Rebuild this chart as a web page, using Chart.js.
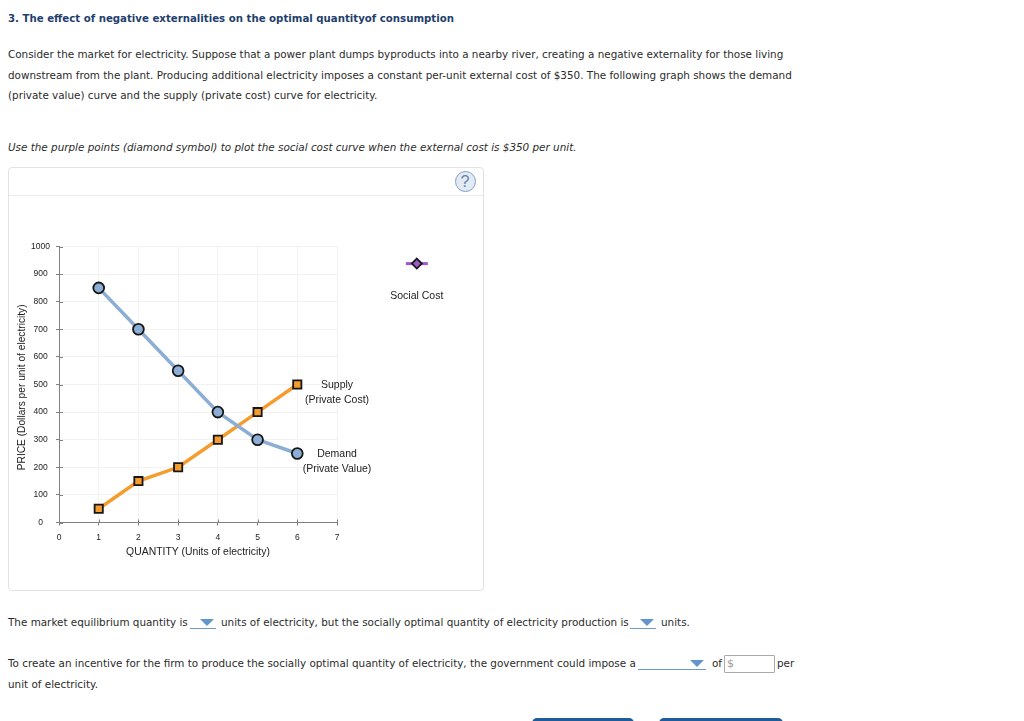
<!DOCTYPE html>
<html><head><meta charset="utf-8">
<script src="https://cdn.jsdelivr.net/npm/chart.js@4/dist/chart.umd.js"></script>
<style>
html,body{margin:0;padding:0;background:#fff;overflow:hidden;width:1024px;height:721px}
.t{position:absolute;white-space:nowrap;font:10.4px/14px "DejaVu Sans",sans-serif;color:#2b2b2b}
.panel{position:absolute;left:8px;top:167px;width:474px;height:422px;border:1px solid #e2e2e2;border-radius:4px;box-sizing:content-box}
.sep{position:absolute;left:9px;top:195px;width:474px;height:1px;background:#ebebeb}
.help{position:absolute;left:454.5px;top:170.5px;width:19px;height:19px;border:1.5px solid #7f9fc4;border-radius:50%;background:#e3eaf3;color:#5f83ad;font:16px/19px "Liberation Sans",sans-serif;text-align:center}
.dd{position:absolute;border-bottom:1.5px solid #6f9bcb;height:14px}
.dd i{position:absolute;top:5px;right:2px;width:0;height:0;border-left:7px solid transparent;border-right:7px solid transparent;border-top:7px solid #6295cd}
.input{position:absolute;left:724px;top:655px;height:16px;border:1px solid #aaa;border-radius:1px;color:#999;font:11px/16px "DejaVu Sans",sans-serif;padding-left:2px;box-sizing:content-box;width:47px}
.btn{position:absolute;top:718px;height:8px;background:#1f5c99;border-radius:5px 5px 0 0}
canvas{position:absolute;left:9px;top:196px}
</style></head><body>
<div class="t" style="left:8px;top:12px;font-size:10.2px;font-weight:bold;color:#1f3f6e">3. The effect of negative externalities on the optimal quantityof consumption</div>
<div class="t" style="left:8px;top:47px">Consider the market for electricity. Suppose that a power plant dumps byproducts into a nearby river, creating a negative externality for those living</div>
<div class="t" style="left:8px;top:68px">downstream from the plant. Producing additional electricity imposes a constant per-unit external cost of $350. The following graph shows the demand</div>
<div class="t" style="left:8px;top:88px">(private value) curve and the supply (private cost) curve for electricity.</div>
<div class="t" style="left:8px;top:140px;font-style:italic">Use the purple points (diamond symbol) to plot the social cost curve when the external cost is $350 per unit.</div>
<div class="panel"></div><div class="sep"></div><div class="help">?</div>
<canvas id="c" width="474" height="394"></canvas>
<div class="t" style="left:8px;top:615px">The market equilibrium quantity is</div>
<div class="dd" style="left:190px;top:614px;width:26px"><i></i></div>
<div class="t" style="left:221px;top:615px">units of electricity, but the socially optimal quantity of electricity production is</div>
<div class="dd" style="left:630px;top:614px;width:26px"><i></i></div>
<div class="t" style="left:661px;top:615px">units.</div>
<div class="t" style="left:8px;top:656px">To create an incentive for the firm to produce the socially optimal quantity of electricity, the government could impose a</div>
<div class="dd" style="left:638px;top:655px;width:68px"><i></i></div>
<div class="t" style="left:712px;top:656px">of</div>
<div class="input">$</div>
<div class="t" style="left:777px;top:656px">per</div>
<div class="t" style="left:8px;top:677px">unit of electricity.</div>
<div class="btn" style="left:532px;width:102px"></div>
<div class="btn" style="left:659px;width:124px"></div>
<script>
const quantities = [1, 2, 3, 4, 5, 6];
const demandValues = [850, 700, 550, 400, 300, 250];
const supplyValues = [50, 150, 200, 300, 400, 500];
const xTitle = 'QUANTITY (Units of electricity)';
const yTitle = 'PRICE (Dollars per unit of electricity)';
const supplyLabel = ['Supply', '(Private Cost)'];
const demandLabel = ['Demand', '(Private Value)'];
const socialLabel = 'Social Cost';
const socialKeyX = 9.01, socialKeyY = 938, socialLabelY = 822, curveLabelX = 7;

const toPoints = v => quantities.map((q, i) => ({x: q, y: v[i]}));
const BLUE = '#8cadd4', ORANGE = '#f59c2e', INK = '#161616', PURPLE = '#9c59c9';

const overlay = {
  id: 'overlay',
  afterDraw(chart) {
    const {ctx, scales: {x, y}} = chart;
    ctx.save();
    // inward half of the axis tick marks
    ctx.strokeStyle = '#808080'; ctx.lineWidth = 1;
    x.ticks.forEach(t => { const p = Math.round(x.getPixelForValue(t.value)) + .5;
      ctx.beginPath(); ctx.moveTo(p, y.bottom); ctx.lineTo(p, y.bottom - 3); ctx.stroke(); });
    y.ticks.forEach(t => { const p = Math.round(y.getPixelForValue(t.value)) + .5;
      ctx.beginPath(); ctx.moveTo(x.left, p); ctx.lineTo(x.left + 4, p); ctx.stroke(); });
    // curve labels
    ctx.fillStyle = '#222'; ctx.font = '10.5px "Liberation Sans", sans-serif';
    ctx.textAlign = 'center'; ctx.textBaseline = 'middle';
    const lx = x.getPixelForValue(curveLabelX);
    supplyLabel.forEach((s, i) => ctx.fillText(s, lx, y.getPixelForValue(supplyValues[5]) + 0.5 + i * 15));
    demandLabel.forEach((s, i) => ctx.fillText(s, lx, y.getPixelForValue(demandValues[5]) + 0.5 + i * 15));
    // social cost key
    const kx = x.getPixelForValue(socialKeyX), ky = y.getPixelForValue(socialKeyY);
    ctx.fillText(socialLabel, kx, y.getPixelForValue(socialLabelY));
    ctx.strokeStyle = PURPLE; ctx.lineWidth = 3;
    ctx.beginPath(); ctx.moveTo(kx - 11, ky); ctx.lineTo(kx + 11, ky); ctx.stroke();
    ctx.fillStyle = PURPLE; ctx.strokeStyle = INK; ctx.lineWidth = 1.75;
    ctx.beginPath(); ctx.moveTo(kx, ky - 5); ctx.lineTo(kx + 5, ky); ctx.lineTo(kx, ky + 5); ctx.lineTo(kx - 5, ky); ctx.closePath();
    ctx.fill(); ctx.stroke();
    ctx.restore();
  }
};

new Chart(document.getElementById('c'), {
  type: 'scatter',
  data: { datasets: [
    { label: 'Demand (Private Value)', data: toPoints(demandValues), showLine: true, borderColor: BLUE, borderWidth: 3.5,
      pointStyle: 'circle', pointRadius: 5.4, pointBackgroundColor: BLUE, pointBorderColor: INK, pointBorderWidth: 1.8, clip: false },
    { label: 'Supply (Private Cost)', data: toPoints(supplyValues), showLine: true, borderColor: ORANGE, borderWidth: 3.5,
      pointStyle: 'rect', pointRadius: 5.8, pointBackgroundColor: ORANGE, pointBorderColor: INK, pointBorderWidth: 1.8, clip: false }
  ]},
  plugins: [overlay],
  options: {
    responsive: false, animation: false, events: [],
    layout: { padding: { top: 50.5, right: 146, left: 0, bottom: 0 } },
    plugins: { legend: { display: false }, tooltip: { enabled: false } },
    scales: {
      x: { type: 'linear', min: 0, max: 7,
        afterFit: s => { s.height = 67.5; },
        ticks: { stepSize: 1, maxRotation: 0, padding: 7, color: '#222', font: { size: 8.5, family: '"Liberation Sans", sans-serif' } },
        grid: { color: '#f2f2f2', tickColor: '#808080', tickLength: 3 },
        border: { color: '#808080', width: 1 },
        title: { display: true, text: xTitle, color: '#222', padding: { top: 0, bottom: 32 }, font: { size: 10.4, family: '"Liberation Sans", sans-serif' } } },
      y: { type: 'linear', min: 0, max: 1000,
        afterFit: s => { s.width = 50; },
        ticks: { stepSize: 100, crossAlign: 'center', padding: 6, color: '#222', font: { size: 8.5, family: '"Liberation Sans", sans-serif' },
          callback: v => String(v) },
        grid: { color: '#f2f2f2', tickColor: '#808080', tickLength: 3 },
        border: { color: '#808080', width: 1 },
        title: { display: true, text: yTitle + '  ', color: '#222', padding: { top: 7, bottom: 0 }, font: { size: 10.2, family: '"Liberation Sans", sans-serif' } } }
    }
  }
});
</script>
</body></html>
